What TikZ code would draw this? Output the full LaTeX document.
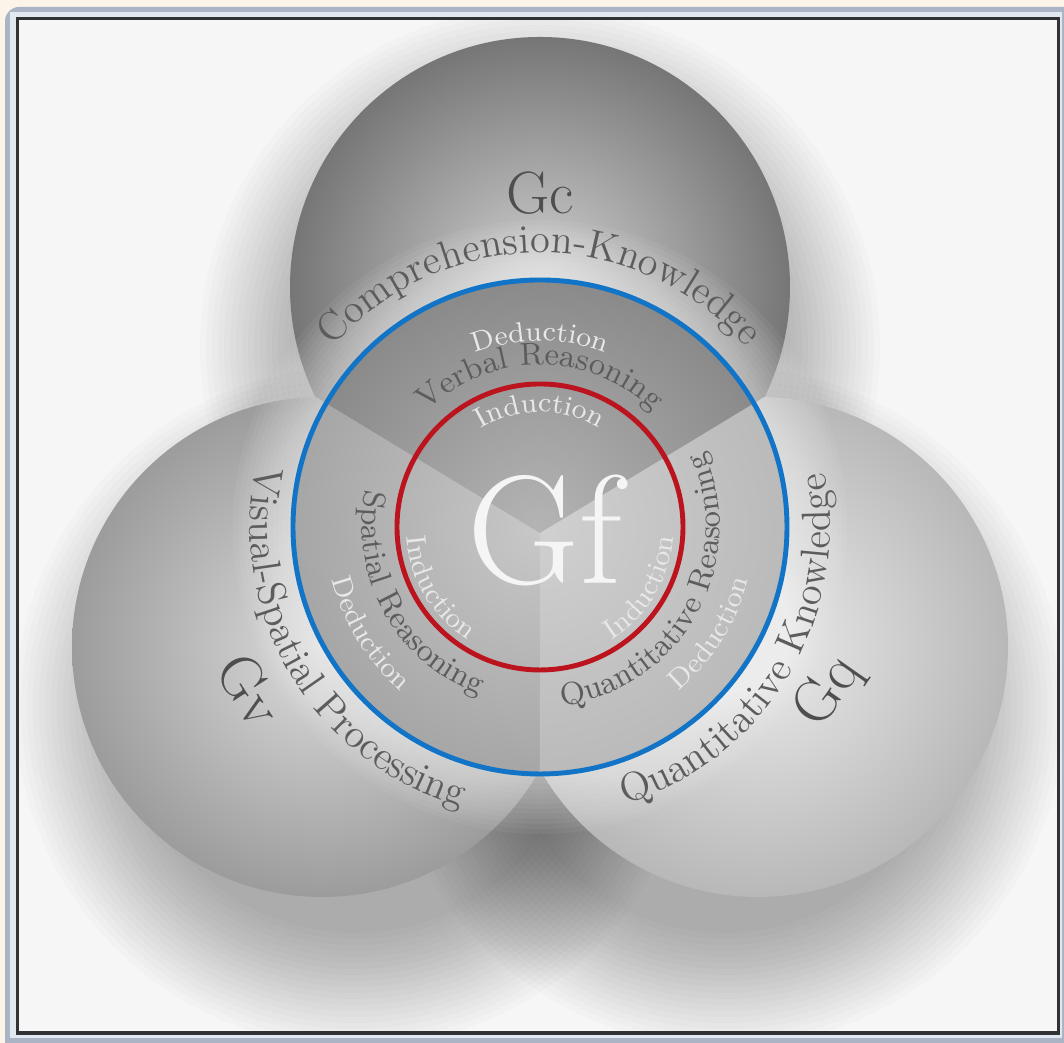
\documentclass[tikz,border=0pt]{standalone}
\usepackage{xcolor}
\usepackage{tikz}
\usetikzlibrary{calc, decorations.text}
\definecolor{outerbg}{RGB}{252,244,232}
\definecolor{framegray}{RGB}{170,180,196}
\definecolor{framelight}{RGB}{226,232,240}
\definecolor{framedark}{RGB}{48,50,54}
\definecolor{pagebg}{RGB}{246,246,246}
\definecolor{gcin}{RGB}{210,210,210}
\definecolor{gcout}{RGB}{118,118,118}
\definecolor{gvin}{RGB}{220,220,220}
\definecolor{gvout}{RGB}{156,156,156}
\definecolor{gqin}{RGB}{236,236,236}
\definecolor{gqout}{RGB}{184,184,184}
\definecolor{topin}{RGB}{180,180,180}
\definecolor{topout}{RGB}{138,138,138}
\definecolor{leftin}{RGB}{200,200,200}
\definecolor{leftout}{RGB}{166,166,166}
\definecolor{rightin}{RGB}{208,208,208}
\definecolor{rightout}{RGB}{186,186,186}
\definecolor{myblue}{RGB}{18,116,198}
\definecolor{myred}{RGB}{188,20,30}
\definecolor{textdark}{RGB}{92,92,92}
\definecolor{textlight}{RGB}{232,232,232}
\newcommand\arcbig{\fontsize{11.5}{14}\selectfont}
\newcommand\arcmid{\fontsize{9}{11}\selectfont}
\newcommand\arcsmall{\fontsize{8}{10}\selectfont}
\tikzset{
  shadowdisc/.style={black, opacity=0.014},
  glowring/.style={white, opacity=0.05, even odd rule},
  ring/.style={line width=1.4pt},
  gletter/.style={font=\fontsize{17}{20}\selectfont, text=textdark!85!black, inner sep=0pt},
  darkarc/.style={decorate, decoration={text along path, text align=center, text color=textdark}},
  lightarc/.style={decorate, decoration={text along path, text align=center, text color=textlight}}
}
\begin{document}
\begin{tikzpicture}
  \useasboundingbox (0,0) rectangle (10.64,10.43);

  % --- Frame ---
  \fill[outerbg] (0,0) rectangle (10.64,10.43);
  \fill[framegray, rounded corners=4pt] (0.05,-0.2) rectangle (10.80,10.36);
  \fill[framelight] (0.10,0.05) rectangle (10.62,10.31);
  \fill[framedark] (0.16,0.08) rectangle (10.595,10.26);
  \fill[pagebg] (0.19,0.115) rectangle (10.565,10.23);

  \coordinate (O) at (5.40,5.16);
  \coordinate (T) at (5.40,5.10);
  \coordinate (gc0) at (5.40,7.56);
  \coordinate (gv0) at (3.22,3.96);
  \coordinate (gq0) at (7.58,3.96);
  \coordinate (gcs) at (5.40,6.96);
  \coordinate (gvs) at (3.55,3.36);
  \coordinate (gqs) at (7.25,3.36);

  % --- Shadow ---
  \begin{scope}
    \clip (0.19,0.115) rectangle (10.565,10.23);
    \foreach \c in {gcs,gvs,gqs}
      \foreach \k in {1,...,20}
        \fill[shadowdisc] (\c) circle ({2.2+0.06*\k});
  \end{scope}

  % --- Spheres ---
  \begin{scope}
    \clip (T) -- ($(T)+(31.2:12)$) -- ($(T)+(90:12)$) -- ($(T)+(148.8:12)$) -- cycle;
    \shade[inner color=gcin, outer color=gcout] (gc0) circle (2.5);
  \end{scope}
  \begin{scope}
    \clip (T) -- ($(T)+(148.8:12)$) -- ($(T)+(209.4:12)$) -- ($(T)+(270:12)$) -- cycle;
    \shade[inner color=gvin, outer color=gvout] (gv0) circle (2.5);
  \end{scope}
  \begin{scope}
    \clip (T) -- ($(T)+(270:12)$) -- ($(T)+(330.6:12)$) -- ($(T)+(31.2:12)$) -- cycle;
    \shade[inner color=gqin, outer color=gqout] (gq0) circle (2.5);
  \end{scope}

  % --- Glow ---
  \foreach \k in {1,...,12}
    \fill[glowring] (O) circle (2.47) circle ({2.47+0.05*\k});

  % --- Inner sectors ---
  \begin{scope}
    \clip (T) -- ($(T)+(31.2:12)$) -- ($(T)+(90:12)$) -- ($(T)+(148.8:12)$) -- cycle;
    \shade[inner color=topin, outer color=topout] (O) circle (2.47);
  \end{scope}
  \begin{scope}
    \clip (T) -- ($(T)+(148.8:12)$) -- ($(T)+(209.4:12)$) -- ($(T)+(270:12)$) -- cycle;
    \shade[inner color=leftin, outer color=leftout] (O) circle (2.47);
  \end{scope}
  \begin{scope}
    \clip (T) -- ($(T)+(270:12)$) -- ($(T)+(330.6:12)$) -- ($(T)+(31.2:12)$) -- cycle;
    \shade[inner color=rightin, outer color=rightout] (O) circle (2.47);
  \end{scope}

  \draw[ring, myblue] (O) circle (2.47);
  \draw[ring, myred] (O) circle (1.43);

  % --- Labels ---
  \node[gletter] (gc) at (5.40,8.50) {Gc};
  \node[gletter, rotate=-57] (gv) at (2.50,3.53) {Gv};
  \node[gletter, rotate=55] (gq) at (8.29,3.51) {Gq};
  \node[font=\fontsize{44}{48}\selectfont, text=white!96!black] (gf) at (5.45,5.13) {Gf};

  % top
  \path[darkarc, decoration={text={|\arcbig|Comprehension-Knowledge}}]
    ([shift={(160:2.74)}]O) arc[start angle=160, end angle=20, radius=2.74];
  \path[lightarc, decoration={text={|\arcsmall|Deduction}}]
    ([shift={(130:1.86)}]O) arc[start angle=130, end angle=50, radius=1.86];
  \path[darkarc, decoration={text={|\arcmid|Verbal Reasoning}}]
    ([shift={(150:1.62)}]O) arc[start angle=150, end angle=30, radius=1.62];
  \path[lightarc, decoration={text={|\arcsmall|Induction}}]
    ([shift={(140:1.15)}]O) arc[start angle=140, end angle=40, radius=1.15];

  % left
  \path[darkarc, decoration={text={|\arcbig|Visual-Spatial Processing}}]
    ([shift={(151:2.9)}]O) arc[start angle=151, end angle=271, radius=2.9];
  \path[lightarc, decoration={text={|\arcsmall|Deduction}}]
    ([shift={(172:2.15)}]O) arc[start angle=172, end angle=252, radius=2.15];
  \path[darkarc, decoration={text={|\arcmid|Spatial Reasoning}}]
    ([shift={(149:1.78)}]O) arc[start angle=149, end angle=269, radius=1.78];
  \path[lightarc, decoration={text={|\arcsmall|Induction}}]
    ([shift={(161:1.34)}]O) arc[start angle=161, end angle=261, radius=1.34];

  % right
  \path[darkarc, decoration={text={|\arcbig|Quantitative Knowledge}}]
    ([shift={(269:2.9)}]O) arc[start angle=269, end angle=389, radius=2.9];
  \path[lightarc, decoration={text={|\arcsmall|Deduction}}]
    ([shift={(288:2.15)}]O) arc[start angle=288, end angle=368, radius=2.15];
  \path[darkarc, decoration={text={|\arcmid|Quantitative Reasoning}}]
    ([shift={(261:1.8)}]O) arc[start angle=261, end angle=401, radius=1.8];
  \path[lightarc, decoration={text={|\arcsmall|Induction}}]
    ([shift={(279:1.34)}]O) arc[start angle=279, end angle=379, radius=1.34];
\end{tikzpicture}
\end{document}
